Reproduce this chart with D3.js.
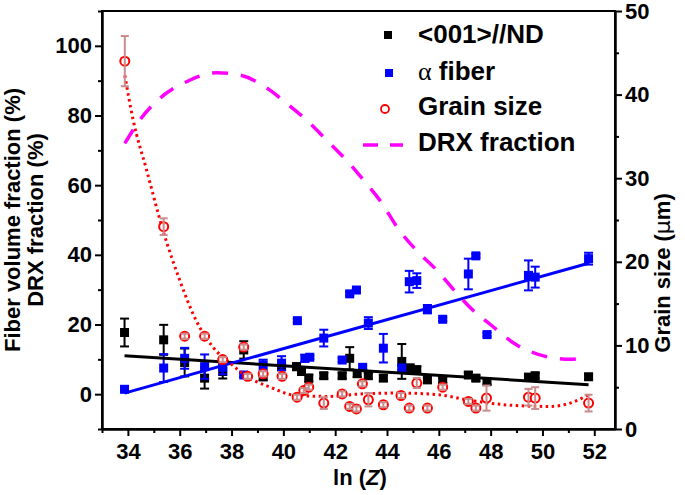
<!DOCTYPE html>
<html><head><meta charset="utf-8">
<script src="https://cdn.jsdelivr.net/npm/d3@7"></script>
<style>body{margin:0;background:#fff}</style>
</head><body>
<svg id="chart" width="685" height="495"></svg>
<script>
// ---- data ----
const xMajorTicks = [34, 36, 38, 40, 42, 44, 46, 48, 50, 52];
const xMinorTicks = [33, 35, 37, 39, 41, 43, 45, 47, 49, 51];
const leftMajorTicks = [0, 20, 40, 60, 80, 100];
const leftMinorTicks = [-10, 10, 30, 50, 70, 90, 110];
const rightMajorTicks = [0, 10, 20, 30, 40, 50];
const rightMinorTicks = [5, 15, 25, 35, 45];

const legendLabels = ["<001>//ND", "\u03b1 fiber", "Grain size", "DRX fraction"];

// <001>//ND fiber volume fraction (%)
const ndLnZ = [33.87,35.38,36.19,36.96,37.66,38.47,39.22,39.93,40.51,40.70,40.98,41.56,42.27,42.56,42.85,43.28,43.86,44.57,44.89,45.15,45.56,46.15,47.14,47.43,47.86,49.46,49.72,51.78];
const ndValue = [17.7,15.6,9.1,4.6,6.5,12.7,5.0,7.9,7.9,6.5,4.6,5.3,5.3,10.3,5.9,5.3,4.6,9.4,7.5,7.0,4.1,4.1,5.5,4.6,3.6,4.9,5.3,5.0];
const ndErr = [4,4.3,4,3,2,2.5,1,1,1,1,1,0.8,0.8,3.2,1,0.8,0.8,5,1,1,0.8,0.8,0.8,0.8,0.8,0.8,0.8,0.8];

// alpha fiber volume fraction (%)
const alphaLnZ = [33.87,35.38,36.19,36.96,37.66,38.47,39.22,39.93,40.54,40.83,41.02,41.56,42.27,42.56,42.82,43.06,43.28,43.86,44.57,44.86,45.15,45.56,46.15,47.14,47.43,47.86,49.46,49.72,51.78];
const alphaValue = [1.4,7.5,10.3,7.9,7.7,5.5,8.4,8.9,21.1,10.3,10.6,16.1,9.8,28.8,29.9,7.7,20.4,13.2,7.5,32.3,32.6,24.4,21.5,34.5,39.7,17.1,34.1,33.6,38.9];
const alphaErr = [0.5,4,3,3.5,2,0.5,1.5,2,0.5,1,0.5,2.4,0.5,0.5,0.5,0.5,1.7,4.1,0.5,3.1,2.1,1.2,0.5,4.4,0.5,0.5,4.3,3,1.7];

// Grain size (um)
const grainLnZ = [33.88,35.38,36.19,36.96,37.66,38.47,38.62,39.22,39.95,40.53,40.79,40.98,41.56,42.27,42.56,42.82,43.05,43.28,43.86,44.54,44.86,45.15,45.56,46.15,47.14,47.43,47.84,49.46,49.72,51.78];
const grainValue = [44.0,24.2,11.1,11.1,8.3,9.8,6.3,6.6,6.3,3.8,4.6,5.0,3.1,4.2,2.7,2.4,5.4,3.5,2.9,4.0,2.5,5.5,2.5,5.0,3.3,2.5,3.7,3.8,3.7,3.1];
const grainErr = [3,1,0.3,0.3,0.3,0.3,0.3,0.3,0.3,0.3,0.3,0.3,0.7,0.3,0.3,0.3,0.3,0.8,0.3,0.3,0.3,0.6,0.3,0.3,0.3,0.3,1.5,1,1.3,1];

// Linear fits
const ndFitLnZ = [33.87, 51.78];
const ndFitValue = [11.0, 2.7];
const alphaFitLnZ = [33.87, 51.78];
const alphaFitValue = [0.3, 37.6];

// Grain size fit curve (um)
const grainFitLnZ = [33.88,34.2,34.72,35.35,36.0,36.63,37.28,38.05,38.58,39.5,40.5,41.8,43.0,44.5,46.0,47.07,47.7,49.0,50.3,51.07,51.78];
const grainFitValue = [42.3,37,31,23.8,17.8,13.0,9.8,7.6,6.3,5.0,4.0,3.9,4.2,4.3,4.1,3.5,3.2,2.8,2.7,3.1,4.1];

// DRX fraction curve (%)
const drxLnZ = [33.88,34.46,35.23,36.26,37.42,38.32,39.48,40.12,40.89,41.66,42.43,43.2,43.72,44.47,45.12,45.92,46.69,47.33,47.99,49.01,50.04,51.07,51.5];
const drxValue = [72,78.7,84.9,89.7,92.3,91.6,87.3,83.5,78.7,73,67.2,60.5,55.7,47.1,41.4,35.6,29.0,24.0,20.0,14.1,11.0,10.0,10.3];

// ---- drawing ----
const FONT = "Arial, 'Liberation Sans', sans-serif";
const svg = d3.select("#chart");
const L = 102, R = 615, T = 11, B = 429;
const x = d3.scaleLinear().domain([33, 52.8]).range([L, R]);
const yL = d3.scaleLinear().domain([-10, 110]).range([B, T]);
const yR = d3.scaleLinear().domain([0, 50]).range([B, T]);

function styleAxis(g) {
  g.selectAll("path").attr("stroke", "#000").attr("stroke-width", 2);
  g.selectAll("line").attr("stroke", "#000").attr("stroke-width", 2);
  g.selectAll("text").attr("font-family", FONT).attr("font-weight", "bold")
    .attr("font-size", 22).attr("fill", "#000");
}

// frame
svg.append("rect").attr("x", L).attr("y", T).attr("width", R - L).attr("height", B - T)
  .attr("fill", "none").attr("stroke", "#000").attr("stroke-width", 2);

// bottom axis
svg.append("g").attr("transform", `translate(0,${B})`)
  .call(d3.axisBottom(x).tickValues(xMinorTicks).tickSize(4).tickSizeOuter(0).tickFormat(""))
  .call(styleAxis);
svg.append("g").attr("transform", `translate(0,${B})`)
  .call(d3.axisBottom(x).tickValues(xMajorTicks).tickSize(7).tickSizeOuter(0).tickPadding(7).tickFormat(d3.format("d")))
  .call(styleAxis);

// left axis
svg.append("g").attr("transform", `translate(${L},0)`)
  .call(d3.axisLeft(yL).tickValues(leftMinorTicks).tickSize(4).tickSizeOuter(0).tickFormat(""))
  .call(styleAxis);
svg.append("g").attr("transform", `translate(${L},0)`)
  .call(d3.axisLeft(yL).tickValues(leftMajorTicks).tickSize(7).tickSizeOuter(0).tickPadding(3).tickFormat(d3.format("d")))
  .call(styleAxis);

// right axis
svg.append("g").attr("transform", `translate(${R},0)`)
  .call(d3.axisRight(yR).tickValues(rightMinorTicks).tickSize(4).tickSizeOuter(0).tickFormat(""))
  .call(styleAxis);
svg.append("g").attr("transform", `translate(${R},0)`)
  .call(d3.axisRight(yR).tickValues(rightMajorTicks).tickSize(7).tickSizeOuter(0).tickPadding(3).tickFormat(d3.format("d")))
  .call(styleAxis);

// axis titles
const lt = svg.append("g").attr("font-family", FONT).attr("font-weight", "bold").attr("font-size", 22);
lt.append("text").attr("transform", "translate(20,220) rotate(-90)").attr("text-anchor", "middle")
  .text("Fiber volume fraction (%)");
lt.append("text").attr("transform", "translate(43,220) rotate(-90)").attr("text-anchor", "middle")
  .text("DRX fraction (%)");
const rt = lt.append("text").attr("transform", "translate(670,273) rotate(-90)").attr("text-anchor", "middle");
rt.append("tspan").text("Grain size (");
rt.append("tspan").attr("font-weight", "normal").attr("font-family", "'DejaVu Sans', sans-serif").text("\u03bc");
rt.append("tspan").text("m)");
const bt = lt.append("text").attr("x", 360).attr("y", 485).attr("text-anchor", "middle");
bt.append("tspan").text("ln (");
bt.append("tspan").attr("font-style", "italic").text("Z");
bt.append("tspan").text(")");

const plot = svg.append("g");

function errBars(lnz, val, err, ys, color, cap) {
  const g = plot.append("g").attr("stroke", color).attr("stroke-width", 2);
  lnz.forEach((d, i) => {
    const cx = x(d), y1 = ys(val[i] - err[i]), y2 = ys(val[i] + err[i]);
    g.append("line").attr("x1", cx).attr("x2", cx).attr("y1", y1).attr("y2", y2);
    g.append("line").attr("x1", cx - cap).attr("x2", cx + cap).attr("y1", y1).attr("y2", y1);
    g.append("line").attr("x1", cx - cap).attr("x2", cx + cap).attr("y1", y2).attr("y2", y2);
  });
}
function squares(lnz, val, color) {
  plot.append("g").selectAll("rect").data(lnz).join("rect")
    .attr("x", d => x(d) - 4.5).attr("y", (d, i) => yL(val[i]) - 4.5)
    .attr("width", 9).attr("height", 9).attr("fill", color);
}

// <001>//ND
errBars(ndLnZ, ndValue, ndErr, yL, "#000", 4.5);
squares(ndLnZ, ndValue, "#000");
// alpha fiber
errBars(alphaLnZ, alphaValue, alphaErr, yL, "#0000ff", 4.5);
squares(alphaLnZ, alphaValue, "#0000ff");

const line = (xs, vs, ys, curve) => d3.line().x(d => x(d)).y((d, i) => ys(vs[i])).curve(curve)(xs);

plot.append("path").attr("d", line(ndFitLnZ, ndFitValue, yL, d3.curveLinear))
  .attr("fill", "none").attr("stroke", "#000").attr("stroke-width", 3);
plot.append("path").attr("d", line(alphaFitLnZ, alphaFitValue, yL, d3.curveLinear))
  .attr("fill", "none").attr("stroke", "#0000ff").attr("stroke-width", 3);

// grain size fit (dotted)
plot.append("path").attr("d", line(grainFitLnZ, grainFitValue, yR, d3.curveMonotoneX))
  .attr("fill", "none").attr("stroke", "#ff0000").attr("stroke-width", 3)
  .attr("stroke-dasharray", "2.5,3.5");

// grain size points
plot.append("g").selectAll("circle").data(grainLnZ).join("circle")
  .attr("cx", d => x(d)).attr("cy", (d, i) => yR(grainValue[i])).attr("r", 4.5)
  .attr("fill", "#fff").attr("stroke", "#ff0000").attr("stroke-width", 2);
errBars(grainLnZ, grainValue, grainErr, yR, "#c98b8b", 4);

// DRX fraction (dashed)
plot.append("path").attr("d", line(drxLnZ, drxValue, yL, d3.curveMonotoneX))
  .attr("fill", "none").attr("stroke", "#ff00ff").attr("stroke-width", 3.5)
  .attr("stroke-dasharray", "16,13");

// legend
const lg = svg.append("g").attr("font-family", FONT).attr("font-weight", "bold").attr("font-size", 26);
const rowsY = [43, 80, 115, 151];
lg.append("rect").attr("x", 384).attr("y", 31).attr("width", 8).attr("height", 8).attr("fill", "#000");
lg.append("rect").attr("x", 385).attr("y", 69).attr("width", 8).attr("height", 8).attr("fill", "#0000ff");
lg.append("circle").attr("cx", 385).attr("cy", 109).attr("r", 4).attr("fill", "#fff")
  .attr("stroke", "#ff0000").attr("stroke-width", 1.8);
lg.append("line").attr("x1", 363).attr("x2", 403).attr("y1", 145).attr("y2", 145)
  .attr("stroke", "#ff00ff").attr("stroke-width", 3.5).attr("stroke-dasharray", "15,12");
lg.append("text").attr("x", 418).attr("y", rowsY[0]).text(legendLabels[0]);
const at = lg.append("text").attr("x", 418).attr("y", rowsY[1]);
at.append("tspan").attr("font-family", "'Liberation Serif', 'DejaVu Serif', serif").attr("font-weight", "normal")
  .text(legendLabels[1].slice(0, 1));
at.append("tspan").text(legendLabels[1].slice(1));
lg.append("text").attr("x", 418).attr("y", rowsY[2]).text(legendLabels[2]);
lg.append("text").attr("x", 418).attr("y", rowsY[3]).text(legendLabels[3]);
</script>
</body></html>
